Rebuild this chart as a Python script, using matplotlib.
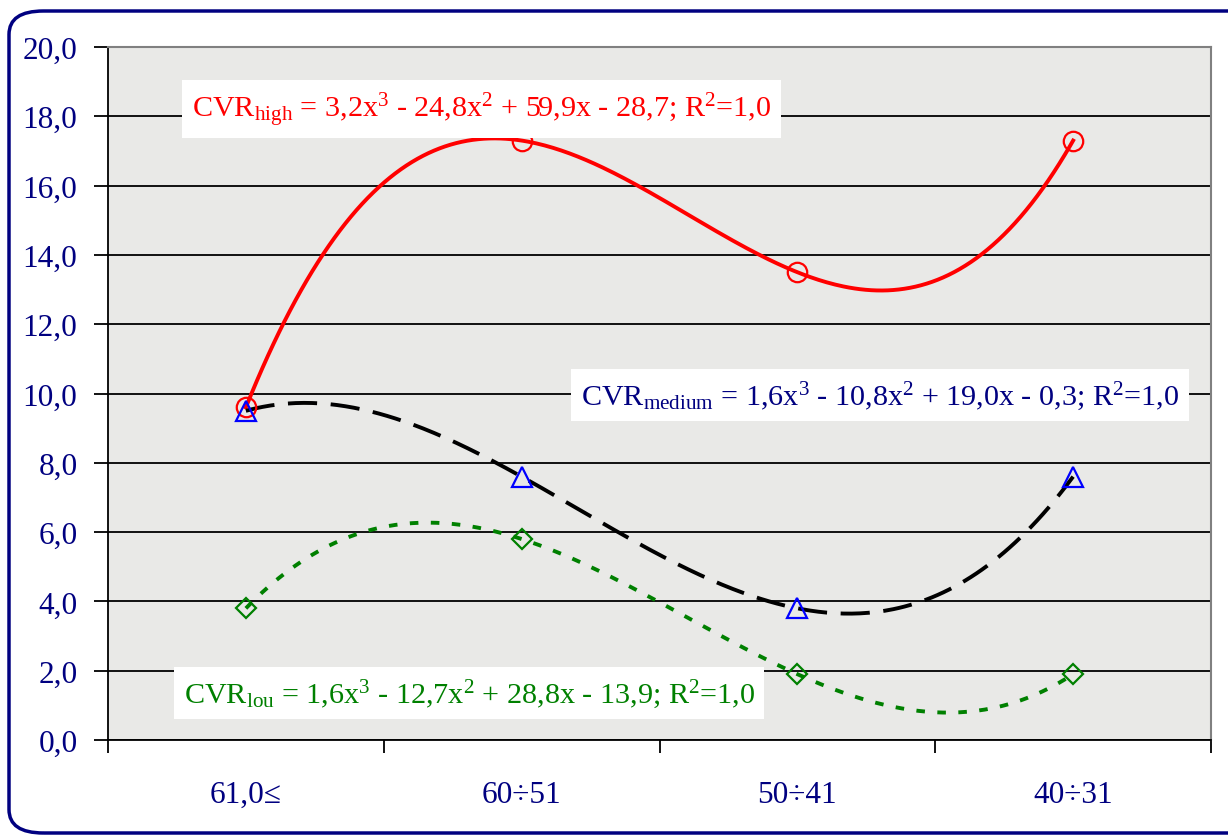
import numpy as np
import matplotlib.pyplot as plt
from matplotlib.patches import FancyBboxPatch

plt.rcParams['font.family'] = ['Liberation Serif', 'DejaVu Serif']
plt.rcParams['mathtext.fontset'] = 'custom'
plt.rcParams['mathtext.rm'] = 'Liberation Serif'
plt.rcParams['mathtext.it'] = 'Liberation Serif:italic'

categories = ['61,0≤', '60÷51', '50÷41', '40÷31']
cvr_high = [9.6, 17.3, 13.5, 17.3]
cvr_medium = [9.5, 7.6, 3.8, 7.6]
cvr_lou = [3.8, 5.8, 1.9, 1.9]
y_ticks = [0, 2, 4, 6, 8, 10, 12, 14, 16, 18, 20]
y_labels = ['0,0', '2,0', '4,0', '6,0', '8,0', '10,0', '12,0', '14,0', '16,0', '18,0', '20,0']

navy = '#000080'
green = '#008000'

fig = plt.figure(figsize=(12.28, 8.37), dpi=100)
ax = fig.add_axes([108 / 1228, 1 - 741 / 837, 1103 / 1228, 693 / 837])

# rounded outer frame, its right side runs past the picture edge
frame = FancyBboxPatch((9 / 1228, 3 / 837), 1300 / 1228, 822 / 837,
                       boxstyle='round,pad=0,rounding_size=0.028',
                       transform=fig.transFigure, facecolor='none',
                       edgecolor=navy, linewidth=2.5, clip_on=False)
fig.patches.append(frame)

ax.set_facecolor('#e9e9e7')
pos = np.arange(len(categories)) + 0.5
xs = np.arange(1, len(categories) + 1)
xx = np.linspace(1, len(categories), 300)


def trend(vals):
    return np.polyval(np.polyfit(xs, vals, 3), xx)


ax.plot(xx - 0.5, trend(cvr_high), color='red', lw=2.8, zorder=3)
ax.plot(xx - 0.5, trend(cvr_medium), color='black', lw=2.8, dashes=(7.5, 3.5), zorder=3)
ax.plot(xx - 0.5, trend(cvr_lou), color=green, lw=2.8, dashes=(2.2, 3.2), zorder=3)

ax.plot(pos, cvr_high, ls='none', marker='o', ms=14, mfc='none', mec='red', mew=1.6, zorder=4)
ax.plot(pos, cvr_medium, ls='none', marker='^', ms=15, mfc='none', mec='blue', mew=1.6, zorder=4)
ax.plot(pos, cvr_lou, ls='none', marker='D', ms=10, mfc='none', mec=green, mew=1.6, zorder=4)

ax.set_xlim(0, 4)
ax.set_ylim(0, 20)
ax.set_yticks(y_ticks)
ax.set_yticklabels(y_labels)
ax.yaxis.grid(True, color='black', lw=1.3)
ax.set_axisbelow(True)

ax.set_xticks(np.arange(0, 5))
ax.set_xticklabels([])
ax.set_xticks(pos, minor=True)
ax.set_xticklabels(categories, minor=True)
ax.tick_params(axis='x', which='minor', length=0, pad=29, labelsize=22.5, labelcolor=navy)
ax.tick_params(axis='x', which='major', length=9, width=1.3, direction='out')
ax.tick_params(axis='y', length=10, width=1.3, pad=12, labelsize=22.5, labelcolor=navy)

for side in ['left', 'bottom']:
    ax.spines[side].set_color('black')
    ax.spines[side].set_linewidth(1.3)
for side in ['top', 'right']:
    ax.spines[side].set_color('#808080')
    ax.spines[side].set_linewidth(1.5)

box = dict(facecolor='white', edgecolor='none', pad=7)
ax.text(1.355, 18.2, 'CVR$_{\\mathrm{high}}$ = 3,2x$^{3}$ - 24,8x$^{2}$ + 59,9x - 28,7; R$^{2}$=1,0',
        color='red', fontsize=21.7, ha='center', va='center', bbox=box, zorder=5)
ax.text(2.80, 9.95, 'CVR$_{\\mathrm{medium}}$ = 1,6x$^{3}$ - 10,8x$^{2}$ + 19,0x - 0,3; R$^{2}$=1,0',
        color=navy, fontsize=21.7, ha='center', va='center', bbox=box, zorder=5)
ax.text(1.31, 1.35, 'CVR$_{\\mathrm{lou}}$ = 1,6x$^{3}$ - 12,7x$^{2}$ + 28,8x - 13,9; R$^{2}$=1,0',
        color=green, fontsize=21.7, ha='center', va='center', bbox=box, zorder=5)

fig.savefig('out.png', dpi=100)
